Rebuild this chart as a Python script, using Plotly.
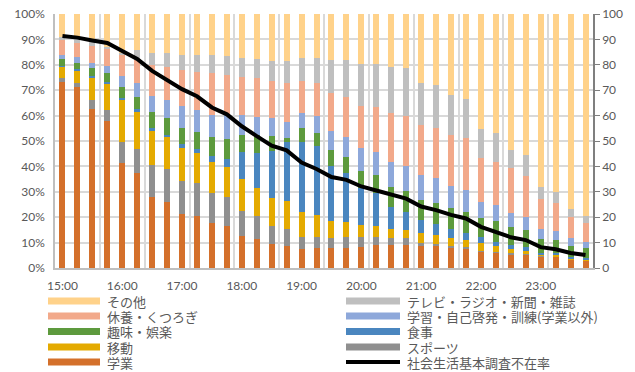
import plotly.graph_objects as go

# 15-minute time slots, 15:00 to 23:45
times = [f"{h}:{m:02d}" for h in range(15, 24) for m in (0, 15, 30, 45)]
hour_ticks = [i for i, t in enumerate(times) if t.endswith(":00")]
hour_labels = [times[i] for i in hour_ticks]

# Share of students by activity (%), stacked bottom to top
study = [73.4, 71.1, 62.6, 57.9, 41.2, 37.3, 28.1, 26.1, 21.1, 20.5, 17.6, 16.7,
         12.6, 11.3, 9.3, 8.8, 7.4, 7.8, 7.8, 8.0, 8.4, 9.1, 9.1, 9.1,
         8.7, 8.7, 8.1, 7.5, 6.5, 6.0, 5.4, 5.2, 4.5, 4.4, 3.4, 2.9]
sports = [1.3, 1.6, 3.5, 4.3, 8.5, 9.6, 12.5, 12.9, 13.3, 13.1, 12.0, 11.4,
          9.8, 9.2, 7.2, 6.6, 4.9, 4.5, 4.1, 4.1, 3.7, 3.0, 2.8, 2.6,
          1.0, 0.7, 0.6, 0.6, 0.3, 0.4, 0.4, 0.3, 0.2, 0.2, 0.1, 0.1]
commute = [4.6, 5.0, 9.0, 10.5, 16.7, 14.9, 13.7, 12.7, 13.0, 11.8, 12.0, 11.5,
           12.5, 11.1, 10.9, 11.0, 9.9, 8.6, 6.7, 6.1, 4.8, 4.4, 3.5, 3.3,
           4.0, 3.6, 3.2, 2.9, 2.9, 2.4, 1.6, 1.3, 0.8, 0.6, 0.4, 0.4]
meals = [0.4, 0.6, 0.5, 0.6, 0.6, 0.7, 0.7, 0.7, 1.3, 1.5, 2.5, 3.2,
         10.9, 13.5, 18.8, 23.1, 27.3, 27.1, 21.7, 19.3, 14.6, 12.9, 8.5, 6.9,
         5.2, 4.3, 3.3, 2.9, 2.4, 1.6, 1.7, 1.3, 0.5, 0.6, 0.3, 0.4]
hobbies = [2.7, 2.6, 3.0, 3.6, 4.1, 5.0, 6.3, 6.5, 6.5, 6.8, 7.3, 7.9,
           6.6, 7.3, 5.9, 1.6, 5.5, 5.3, 6.2, 6.3, 6.8, 7.2, 8.1, 8.5,
           7.9, 8.4, 8.3, 8.3, 7.5, 8.2, 6.9, 6.9, 5.4, 5.2, 4.5, 4.0]
learning = [1.6, 2.0, 2.2, 2.7, 4.5, 5.2, 6.5, 7.2, 8.6, 8.5, 8.8, 9.5,
            7.8, 7.2, 6.8, 6.5, 5.9, 6.5, 7.6, 7.6, 8.8, 9.2, 9.6, 9.8,
            9.8, 9.6, 8.8, 8.5, 6.5, 6.2, 5.5, 5.2, 4.0, 3.7, 3.0, 2.6]
rest = [5.9, 5.8, 6.6, 6.9, 8.3, 9.2, 12.1, 13.2, 14.2, 15.1, 16.4, 15.8,
        15.1, 15.1, 14.9, 15.1, 12.7, 12.9, 14.7, 15.8, 16.7, 17.5, 19.5, 19.6,
        19.7, 19.7, 20.1, 20.4, 17.1, 17.1, 17.7, 16.0, 11.6, 11.0, 8.3, 7.4]
media = [1.1, 1.3, 1.7, 0.6, 0.6, 3.9, 4.6, 5.2, 5.9, 6.6, 7.3, 7.5,
         7.5, 7.6, 7.7, 8.8, 9.2, 10.1, 13.1, 14.7, 16.4, 16.9, 18.2, 19.1,
         16.7, 17.0, 15.7, 15.4, 11.5, 11.1, 7.3, 8.3, 4.8, 4.1, 3.2, 2.8]
other = [9.0, 10.0, 10.9, 12.9, 15.5, 14.2, 15.5, 15.5, 16.1, 16.1, 16.1, 16.5,
         17.2, 17.7, 18.5, 18.5, 17.2, 17.2, 18.1, 18.1, 19.8, 19.8, 20.7, 21.1,
         27.0, 28.0, 31.9, 33.5, 45.3, 47.0, 53.5, 55.5, 68.2, 70.2, 76.8, 79.4]

# Absence-from-home rate from the Survey on Time Use and Leisure Activities
absent_rate = [91.3, 90.7, 89.6, 88.6, 85.4, 82.3, 77.6, 74.0, 70.4, 67.6, 63.2, 60.5,
               55.8, 51.9, 48.2, 46.3, 41.5, 39.0, 35.8, 34.7, 32.1, 30.5, 28.7, 27.3,
               24.2, 22.8, 20.9, 19.5, 16.2, 14.3, 12.1, 11.0, 8.2, 7.4, 5.9, 5.1]

series = [
    ("学業", study, "#D4702B"),
    ("スポーツ", sports, "#8F8F8F"),
    ("移動", commute, "#E4AA00"),
    ("食事", meals, "#4A86BF"),
    ("趣味・娯楽", hobbies, "#5D9A3D"),
    ("学習・自己啓発・訓練(学業以外)", learning, "#8EA8DA"),
    ("休養・くつろぎ", rest, "#F2A98A"),
    ("テレビ・ラジオ・新聞・雑誌", media, "#BFBFBF"),
    ("その他", other, "#FFD28A"),
]
line_name = "社会生活基本調査不在率"

x = list(range(len(times)))
fig = go.Figure()
for name, vals, color in series:
    fig.add_trace(go.Bar(x=x, y=vals, name=name, marker_color=color,
                         marker_line_width=0, width=0.4, showlegend=False,
                         customdata=times, hovertemplate="%{customdata} %{y}%<extra>" + name + "</extra>"))
fig.add_trace(go.Scatter(x=x, y=absent_rate, name=line_name, mode="lines",
                         line=dict(color="black", width=4), yaxis="y2", showlegend=False))

# Plot area geometry in pixels (for placing the legend below the axes)
W, H = 635, 372
L, R, T, B = 55, 42, 14, 104
pw, ph = W - L - R, H - T - B

def px(xp):
    return (xp - L) / pw

def py(yp):
    return (H - B - yp) / ph

# Legend: two columns, five rows (stack order reversed)
color_of = {name: color for name, _, color in series}
legend_rows = [
    ["その他", "テレビ・ラジオ・新聞・雑誌"],
    ["休養・くつろぎ", "学習・自己啓発・訓練(学業以外)"],
    ["趣味・娯楽", "食事"],
    ["移動", "スポーツ"],
    ["学業", line_name],
]
row_y = [301, 316, 331.5, 347, 362]
col_x = [(48, 100, 105), (346, 400, 405)]
shapes, annotations = [], []
for r, row in enumerate(legend_rows):
    for c, label in enumerate(row):
        x0, x1, tx = col_x[c]
        yc = row_y[r]
        if label in color_of:
            shapes.append(dict(type="rect", xref="paper", yref="paper",
                               x0=px(x0), x1=px(x1), y0=py(yc + 3.5), y1=py(yc - 3.5),
                               fillcolor=color_of[label], line_width=0))
        else:
            shapes.append(dict(type="line", xref="paper", yref="paper",
                               x0=px(x0), x1=px(x1), y0=py(yc), y1=py(yc),
                               line=dict(color="black", width=4)))
        annotations.append(dict(text=label, xref="paper", yref="paper",
                                x=px(tx), y=py(yc), xanchor="left", yanchor="middle",
                                showarrow=False, height=15,
                                font=dict(family="Noto Sans CJK JP", size=13, color="#595959")))

tick_font = dict(family="Lato, Noto Sans CJK JP", size=12, color="#595959")
fig.update_layout(
    width=W, height=H,
    margin=dict(l=L, r=R, t=T, b=B, autoexpand=False),
    paper_bgcolor="white", plot_bgcolor="white",
    barmode="stack", bargap=0.6,
    showlegend=False,
    shapes=shapes, annotations=annotations,
    xaxis=dict(range=[-0.5, len(times) - 0.5], tickmode="array",
               tickvals=hour_ticks, ticktext=hour_labels, tickfont=tick_font,
               showgrid=False, zeroline=False, showline=True,
               linecolor="#BFBFBF", linewidth=1.5, ticks="",
               ticklabelstandoff=6,
               minor=dict(tickmode="linear", tick0=-0.5, dtick=3, showgrid=True,
                          gridcolor="#D9D9D9", gridwidth=1.5, ticks="")),
    yaxis=dict(range=[0, 100], dtick=10, ticksuffix="%", tickfont=tick_font,
               showgrid=True, gridcolor="#D9D9D9", gridwidth=1.5, zeroline=False,
               showline=True, linecolor="#BFBFBF", linewidth=1.5, ticks="",
               ticklabelstandoff=6),
    yaxis2=dict(range=[0, 100], dtick=10, overlaying="y", side="right",
                tickfont=tick_font, showgrid=False, zeroline=False,
                showline=True, linecolor="#7F7F7F", linewidth=1.5,
                ticks="outside", ticklen=5, tickcolor="#7F7F7F"),
)

fig.write_html("out.html")
